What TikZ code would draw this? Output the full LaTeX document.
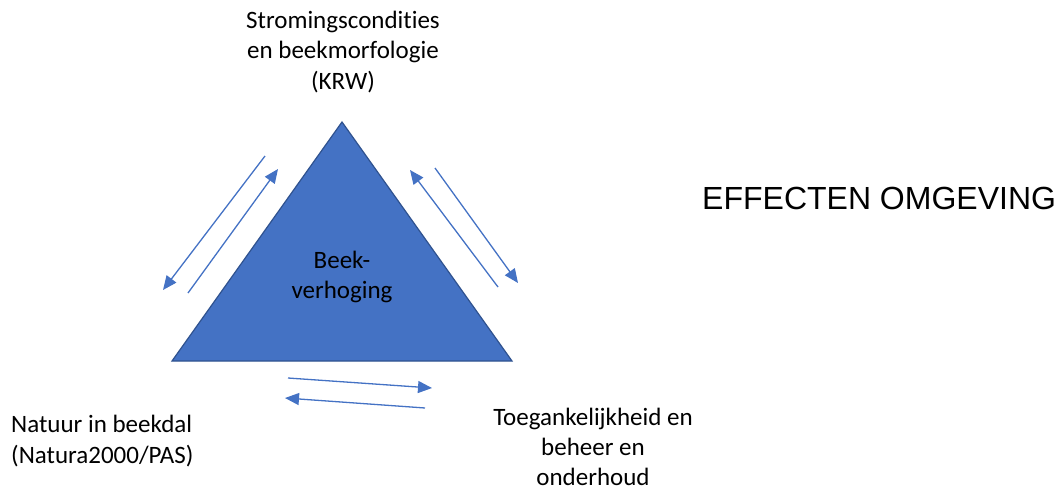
\documentclass[tikz,border=0pt]{standalone}
\usepackage{fontspec}
\setmainfont[Ligatures=NoCommon]{Carlito}
\newfontfamily\arialfont{Liberation Sans}
\usetikzlibrary{arrows.meta}
\definecolor{triblue}{HTML}{4472C4}
\definecolor{triedge}{HTML}{2F528F}
\tikzset{
  flow/.style={draw=triblue, line width=1.3pt, -{Triangle[length=14pt,width=12pt]}},
  lbl/.style={font=\fontsize{25}{30.5}\selectfont, align=center, inner sep=0pt},
}
\begin{document}
\begin{tikzpicture}[x=1pt,y=-1pt]
\useasboundingbox (0,0) rectangle (1056,493);
% triangle
\coordinate (apex) at (342,122);
\coordinate (bl) at (172,361);
\coordinate (br) at (512,361);
\draw[fill=triblue, draw=triedge, line width=1.2pt] (apex) -- (bl) -- (br) -- cycle;
\node[lbl] (center) at (342,277) {Beek-\\verhoging};
% labels
\node[lbl] (top) at (343,52) {Stromingscondities\\en beekmorfologie\\(KRW)};
\node[lbl, align=left, anchor=west] (left) at (11,441) {Natuur in beekdal\\(Natura2000/PAS)};
\node[lbl, font=\fontsize{25}{30}\selectfont] (right) at (593,447) {Toegankelijkheid en\\beheer en\\onderhoud};
\node[font=\arialfont\fontsize{32}{36}\selectfont, inner sep=0pt, anchor=west] (eff) at (702,198) {EFFECTEN OMGEVING};
% arrows
\coordinate (l1s) at (265,156); \coordinate (l1e) at (163,290);
\coordinate (l2s) at (188,293); \coordinate (l2e) at (278,169);
\coordinate (r1s) at (498,287); \coordinate (r1e) at (410,170);
\coordinate (r2s) at (435,168); \coordinate (r2e) at (518,283);
\coordinate (b1s) at (288,378); \coordinate (b1e) at (432,388);
\coordinate (b2s) at (425,408); \coordinate (b2e) at (285,398);
\draw[flow] (l1s) -- (l1e);
\draw[flow] (l2s) -- (l2e);
\draw[flow] (r1s) -- (r1e);
\draw[flow] (r2s) -- (r2e);
\draw[flow] (b1s) -- (b1e);
\draw[flow] (b2s) -- (b2e);
\end{tikzpicture}
\end{document}
